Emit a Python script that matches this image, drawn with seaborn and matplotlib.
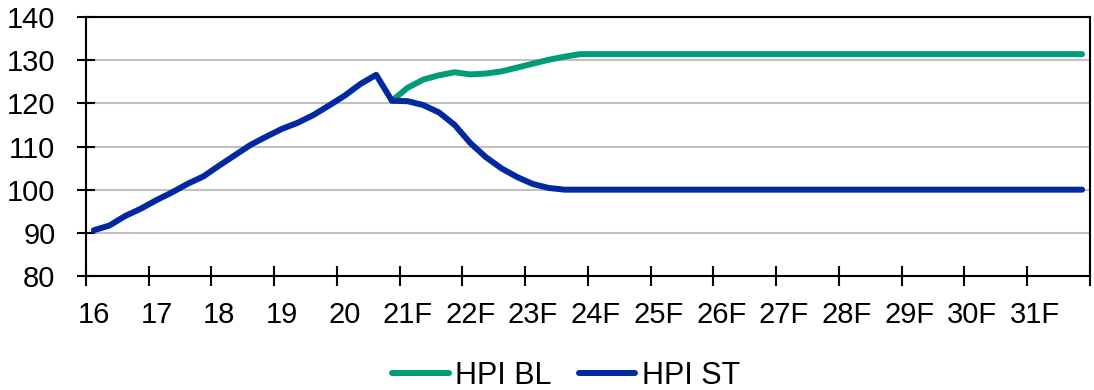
import numpy as np
import pandas as pd
import matplotlib
matplotlib.use("Agg")
import matplotlib.pyplot as plt
from matplotlib.lines import Line2D
import seaborn as sns

# Year labels (one per year, four quarters each)
years = ["16", "17", "18", "19", "20", "21F", "22F", "23F",
         "24F", "25F", "26F", "27F", "28F", "29F", "30F", "31F"]

series_names = ["HPI BL", "HPI ST"]
series_colors = ["#009B78", "#00299F"]

# House price index, stress scenario (quarterly, 2016Q1 - 2031Q4)
hpi_st = [
    90.6, 91.7, 93.9, 95.6,
    97.6, 99.4, 101.4, 103.1,
    105.6, 108.0, 110.4, 112.3,
    114.1, 115.5, 117.3, 119.5,
    121.8, 124.5, 126.6, 120.6,
    120.5, 119.6, 117.9, 115.0,
    110.8, 107.5, 104.9, 102.9,
    101.3, 100.4, 100.0, 100.0,
    100.0, 100.0, 100.0, 100.0,
    100.0, 100.0, 100.0, 100.0,
    100.0, 100.0, 100.0, 100.0,
    100.0, 100.0, 100.0, 100.0,
    100.0, 100.0, 100.0, 100.0,
    100.0, 100.0, 100.0, 100.0,
    100.0, 100.0, 100.0, 100.0,
    100.0, 100.0, 100.0, 100.0,
]

# House price index, baseline scenario (forecast branch starts at 2020Q4)
hpi_bl = [
    np.nan, np.nan, np.nan, np.nan,
    np.nan, np.nan, np.nan, np.nan,
    np.nan, np.nan, np.nan, np.nan,
    np.nan, np.nan, np.nan, np.nan,
    np.nan, np.nan, np.nan, 120.6,
    123.6, 125.5, 126.5, 127.2,
    126.7, 126.9, 127.4, 128.3,
    129.2, 130.1, 130.8, 131.4,
    131.4, 131.4, 131.4, 131.4,
    131.4, 131.4, 131.4, 131.4,
    131.4, 131.4, 131.4, 131.4,
    131.4, 131.4, 131.4, 131.4,
    131.4, 131.4, 131.4, 131.4,
    131.4, 131.4, 131.4, 131.4,
    131.4, 131.4, 131.4, 131.4,
    131.4, 131.4, 131.4, 131.4,
]

n_q = len(hpi_st)
quarter = np.arange(n_q)
df = pd.concat([
    pd.DataFrame({"quarter": quarter, "value": hpi_bl, "series": "HPI BL"}),
    pd.DataFrame({"quarter": quarter, "value": hpi_st, "series": "HPI ST"}),
]).dropna()

sns.set_theme(style="white")
plt.rcParams["font.family"] = ["Liberation Sans", "DejaVu Sans"]
plt.rcParams["text.color"] = "black"

fig = plt.figure(figsize=(10.94, 3.90), dpi=100)
ax = fig.add_axes([0.0786, 0.2923, 0.9177, 0.6641])

sns.lineplot(data=df, x="quarter", y="value", hue="series",
             hue_order=series_names, palette=series_colors,
             estimator=None, sort=True, legend=False, ax=ax,
             lw=4.3, solid_capstyle="round", solid_joinstyle="round")

ax.set_xlim(-0.5, n_q - 0.5)
ax.set_ylim(80, 140)
ax.set_xlabel("")
ax.set_ylabel("")

# Y axis
ax.set_yticks(np.arange(80, 141, 10))
ax.tick_params(axis="y", which="major", left=True, direction="inout",
               length=13, width=1.5, color="black", pad=15.5,
               labelsize=21, labelcolor="black")
ax.yaxis.grid(True, color="#C0C0C0", lw=1.5)
ax.xaxis.grid(False)
ax.set_axisbelow(True)

# X axis: tick marks between years, labels on first quarter of each year
ax.set_xticks(np.arange(-0.5, n_q, 4))
ax.set_xticklabels([])
ax.tick_params(axis="x", which="major", bottom=True, direction="inout",
               length=14, width=1.5, color="black")
ax.set_xticks(np.arange(0, n_q, 4), minor=True)
ax.set_xticklabels(years, minor=True)
ax.tick_params(axis="x", which="minor", bottom=True, length=0, pad=18,
               labelsize=21, labelcolor="black")

for sp in ax.spines.values():
    sp.set_visible(True)
    sp.set_color("black")
    sp.set_linewidth(1.5)

handles = [Line2D([0], [0], color=c, lw=4.3, solid_capstyle="round")
           for c in series_colors]
fig.legend(handles, series_names, loc="center",
           bbox_to_anchor=(566 / 1094, 1 - 376 / 390), ncol=2,
           frameon=False, fontsize=22, handlelength=1.85,
           handletextpad=0.2, columnspacing=0.9)

fig.savefig("out.png", dpi=100)
